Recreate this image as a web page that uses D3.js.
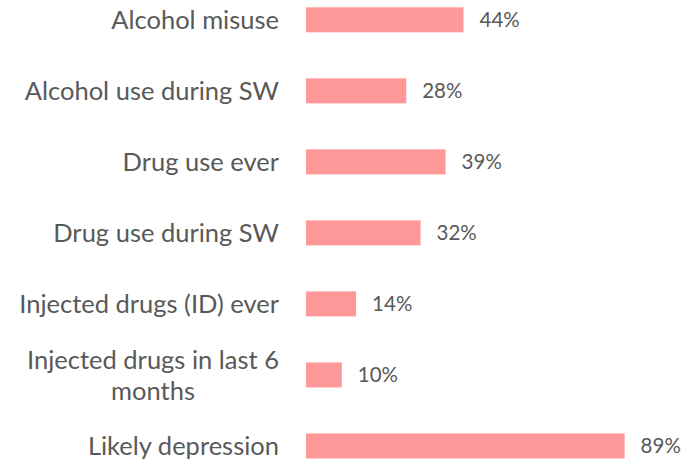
<!DOCTYPE html>
<html>
<head>
<meta charset="utf-8">
<script src="https://cdn.jsdelivr.net/npm/d3@7"></script>
<style>
	body { margin: 0; background: #fff; }
	text { font-family: Lato, "Open Sans", sans-serif; fill: #595959; }
</style>
</head>
<body>
<svg width="699" height="462"></svg>
<script>
	var categories = [
		["Alcohol misuse"],
		["Alcohol use during SW"],
		["Drug use ever"],
		["Drug use during SW"],
		["Injected drugs (ID) ever"],
		["Injected drugs in last 6", "months"],
		["Likely depression"]
	];
	var values = [44, 28, 39, 32, 14, 10, 89];

	var svg = d3.select("svg");

	var x = d3.scaleLinear()
		.domain([0, 100])
		.range([306, 664]);

	var y = d3.scaleBand()
		.domain(d3.range(categories.length))
		.range([-15.7, 481.5])
		.paddingInner(0.648)
		.paddingOuter(0.324);

	var rows = svg.selectAll("g.row")
		.data(values)
		.enter().append("g")
			.attr("class", "row");

	rows.append("rect")
		.attr("x", x(0))
		.attr("y", function(d, i) { return y(i); })
		.attr("width", function(d) { return x(d) - x(0); })
		.attr("height", y.bandwidth())
		.attr("fill", "#ff9999");

	rows.append("text")
		.attr("x", function(d) { return x(d) + 16; })
		.attr("y", function(d, i) { return y(i) + y.bandwidth() / 2; })
		.attr("dy", "0.36em")
		.attr("font-size", "20.5px")
		.text(function(d) { return d + "%"; });

	// category labels, right aligned; wrapped lines are centred on the block
	categories.forEach(function(lines, i) {
		var cy = y(i) + y.bandwidth() / 2;
		var lh = 31;
		var g = svg.append("g");
		var first = g.append("text")
			.attr("x", 279)
			.attr("y", cy - (lines.length - 1) * lh / 2)
			.attr("dy", "0.36em")
			.attr("font-size", "25.5px")
			.attr("text-anchor", "end")
			.text(lines[0]);
		if (lines.length > 1) {
			var w = first.node().getComputedTextLength();
			var mid = 279 - w / 2;
			first.attr("x", mid).attr("text-anchor", "middle");
			for (var k = 1; k < lines.length; k++) {
				g.append("text")
					.attr("x", mid)
					.attr("y", cy - (lines.length - 1) * lh / 2 + k * lh)
					.attr("dy", "0.36em")
					.attr("font-size", "25.5px")
					.attr("text-anchor", "middle")
					.text(lines[k]);
			}
		}
	});
</script>
</body>
</html>
